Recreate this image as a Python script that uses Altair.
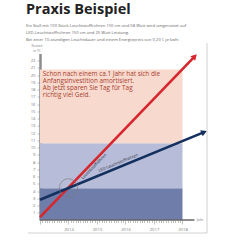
import altair as alt
import pandas as pd

# ---- data ----
band_lo = [0, 4.4, 10.6]
band_hi = [4.4, 10.6, 20.8]
band_col = ["#6E7DAA", "#B7BDD8", "#F8D9CD"]
band_x0 = [2013, 2013, 2013]
band_x1 = [2018, 2018, 2018]

red_x = [2013.0, 2018.43]
red_y = [0.4, 22.6]
blue_x = [2013.0, 2018.76]
blue_y = [2.8, 12.14]
arrow_x = [2018.43, 2018.76]
arrow_y = [22.6, 12.14]
arrow_angle = [44, 67.5]
arrow_col = ["#D7262E", "#14305E"]

y_ticks = list(range(1, 23))
x_ticks = [round(2013 + i / 12, 4) for i in range(0, 61)]

title_text = "Praxis Beispiel"
sub_lines = [
    "Ein Stall mit 100 Stück Leuchtstoffröhren 150 cm und 58 Watt wird umgerüstet auf",
    "LED-Leuchtstoffröhren 150 cm und 25 Watt Leistung.",
    "Bei einer 10-stündigen Leuchtdauer und einem Energiepreis von 0,20 € je kwh:",
]
note_lines = [
    "Schon nach einem ca.1 Jahr hat sich die",
    "Anfangsinvestition amortisiert.",
    "Ab jetzt sparen Sie Tag für Tag",
    "richtig viel Geld.",
]

W, H = 167, 166.5
xs = alt.Scale(domain=[2013, 2018.86], nice=False, zero=False)
ys = alt.Scale(domain=[0, 23], nice=False, zero=False)

is_year = "abs(datum.value - round(datum.value)) < 0.01"

AX = alt.Axis(
    values=x_ticks,
    labelExpr=f"({is_year}) && datum.value > 2013.5 ? format(datum.value, 'd') : ''",
    tickSize={"condition": {"test": is_year, "value": 4}, "value": 2.5},
    tickColor="#999", tickWidth=0.6, domain=False, grid=False, title=None,
    labelFontSize=4.2, labelColor="#777", labelPadding=3, labelOverlap=False,
    labelFlush=False, labelFont="Open Sans")
AY = alt.Axis(
    values=y_ticks, tickSize=3, tickColor="#999", tickWidth=0.6,
    labelFontSize=4.2, labelColor="#777", labelPadding=2, grid=False, title=None,
    labelOverlap=False, labelFlush=False,
    domainColor="#8c8c8c", domainWidth=2.5, labelFont="Open Sans")


def X(f):
    return alt.X(f, scale=xs, axis=AX)


def Y(f):
    return alt.Y(f, scale=ys, axis=AY)


bands = pd.DataFrame({"x0": band_x0, "x1": band_x1, "lo": band_lo, "hi": band_hi, "c": band_col})
band_layer = alt.Chart(bands).mark_rect(strokeWidth=0).encode(
    x=X("x0:Q"), x2="x1:Q", y=Y("lo:Q"), y2="hi:Q",
    color=alt.Color("c:N", scale=None),
)

axis_line = alt.Chart(pd.DataFrame({"x0": [2013], "x1": [2018.42], "y": [0]})).mark_rule(
    color="#666", strokeWidth=1.3).encode(x=X("x0:Q"), x2="x1:Q", y=Y("y:Q"))

jahr = alt.Chart(pd.DataFrame({"x": [2018.5], "y": [0], "t": ["Jahr"]})).mark_text(
    align="left", baseline="middle", fontSize=3.6, color="#777", font="Open Sans").encode(
    x=X("x:Q"), y=Y("y:Q"), text="t:N")

red_df = pd.DataFrame({"x": red_x, "y": red_y})
blue_df = pd.DataFrame({"x": blue_x, "y": blue_y})
red_line = alt.Chart(red_df).mark_line(color="#D7262E", strokeWidth=2.6).encode(
    x=X("x:Q"), y=Y("y:Q"))
blue_line = alt.Chart(blue_df).mark_line(color="#14305E", strokeWidth=2.6).encode(
    x=X("x:Q"), y=Y("y:Q"))

arrows = alt.Chart(pd.DataFrame({"x": arrow_x, "y": arrow_y, "a": arrow_angle, "c": arrow_col})).mark_point(
    shape="triangle-up", filled=True, size=45, opacity=1).encode(
    x=X("x:Q"), y=Y("y:Q"),
    angle=alt.Angle("a:Q", scale=None), color=alt.Color("c:N", scale=None))

circle = alt.Chart(pd.DataFrame({"x": [2014], "y": [4.45]})).mark_point(
    shape="circle", size=330, filled=False, color="#777", strokeWidth=0.6, opacity=1).encode(
    x=X("x:Q"), y=Y("y:Q"))

red_lab = alt.Chart(pd.DataFrame({"x": [2014.90], "y": [7.38], "t": ["Leuchtstoffröhren"]})).mark_text(
    angle=314, baseline="middle", fontSize=4.0, color="#1a1a2e", font="Open Sans").encode(
    x=X("x:Q"), y=Y("y:Q"), text="t:N")
blue_lab = alt.Chart(pd.DataFrame({"x": [2015.75], "y": [7.86], "t": ["LED-Leuchtstoffröhren"]})).mark_text(
    angle=337.5, baseline="middle", fontSize=4.0, color="#1a1a2e", font="Open Sans").encode(
    x=X("x:Q"), y=Y("y:Q"), text="t:N")

note = alt.Chart(pd.DataFrame({"x": [2013.1], "y": [20.2], "t": ["\n".join(note_lines)]})).mark_text(
    align="left", baseline="middle", fontSize=6.4, lineHeight=7, color="#A8402F",
    lineBreak="\n", font="Open Sans").encode(
    x=X("x:Q"), y=Y("y:Q"), text="t:N")

title = alt.Chart(pd.DataFrame({"t": [title_text]})).mark_text(
    align="left", baseline="alphabetic", fontSize=14.5, fontWeight="bold", color="#222",
    font="Open Sans").encode(x=alt.value(-14), y=alt.value(-40), text="t:N")
sub = alt.Chart(pd.DataFrame({"t": ["\n".join(sub_lines)]})).mark_text(
    align="left", baseline="middle", fontSize=4.2, lineHeight=7, color="#666",
    lineBreak="\n", font="Open Sans").encode(x=alt.value(-14), y=alt.value(-27.5), text="t:N")
ytitle = alt.Chart(pd.DataFrame({"t": ["Kosten\nin T€"]})).mark_text(
    align="center", baseline="middle", fontSize=3.4, lineHeight=4.5, color="#777",
    lineBreak="\n", font="Open Sans").encode(x=alt.value(-3), y=alt.value(-7.5), text="t:N")

frame_r = alt.Chart(pd.DataFrame({"a": [0]})).mark_rule(color="#c4c4c4", strokeWidth=0.8).encode(
    x=alt.value(W), y=alt.value(-10.5), y2=alt.value(179.5))
frame_b = alt.Chart(pd.DataFrame({"a": [0]})).mark_rule(color="#c4c4c4", strokeWidth=0.8).encode(
    x=alt.value(-12), x2=alt.value(W), y=alt.value(179.5))

chart = alt.layer(
    band_layer, axis_line, jahr, red_line, blue_line, arrows, circle, red_lab, blue_lab,
    note, title, sub, ytitle, frame_r, frame_b
).properties(
    width=W, height=H,
    autosize=alt.AutoSizeParams(type="none"),
    padding={"left": 40, "top": 53.5, "right": 33, "bottom": 20},
    background="white",
).configure_view(stroke=None).configure_axis(grid=False)

chart.save("out.html", embed_options={"renderer": "svg", "actions": False})
